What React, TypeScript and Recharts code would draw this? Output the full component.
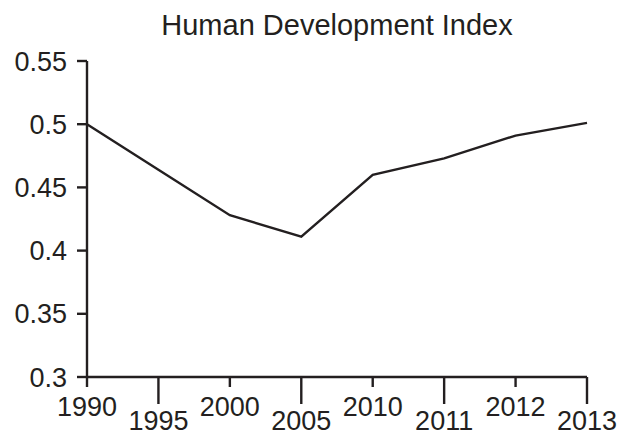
import { LineChart, Line, XAxis, YAxis } from "recharts";

const years = ["1990", "1995", "2000", "2005", "2010", "2011", "2012", "2013"];
const hdiValues = [0.5, 0.464, 0.428, 0.411, 0.46, 0.473, 0.491, 0.501];
const yTicks = [0.3, 0.35, 0.4, 0.45, 0.5, 0.55];

const INK = "#231f20";
const FONT = "'Liberation Sans', Arial, Helvetica, sans-serif";

const chartData = years.map((year, i) => ({ year, hdi: hdiValues[i] }));

type TickProps = {
  x?: number;
  y?: number;
  index?: number;
  payload?: { value: string };
};

// alternating short/long tick marks with staggered labels
function YearTick({ x = 0, y = 0, index = 0, payload }: TickProps) {
  const long = index % 2 === 1;
  return (
    <g>
      <line x1={x} x2={x} y1={y} y2={y + (long ? 27 : 10)} stroke={INK} strokeWidth={2.4} />
      <text
        x={x}
        y={y + (long ? 53 : 39)}
        textAnchor="middle"
        fontSize={27}
        fontFamily={FONT}
        fill={INK}
      >
        {payload?.value}
      </text>
    </g>
  );
}

export default function App() {
  return (
    <div
      style={{
        position: "absolute",
        left: 0,
        top: 0,
        width: 623,
        height: 436,
        background: "#fff",
        fontFamily: FONT,
      }}
    >
      <div
        style={{
          position: "absolute",
          left: 87,
          width: 500,
          top: 11,
          textAlign: "center",
          fontSize: 29,
          lineHeight: 1,
          color: INK,
        }}
      >
        Human Development Index
      </div>
      <LineChart
        width={623}
        height={436}
        data={chartData}
        margin={{ top: 61, right: 36, bottom: 0, left: 0 }}
      >
        <XAxis
          dataKey="year"
          height={59}
          axisLine={{ stroke: INK, strokeWidth: 2.4 }}
          tickLine={false}
          tickSize={0}
          tickMargin={0}
          interval={0}
          tick={<YearTick />}
        />
        <YAxis
          width={87}
          domain={[0.3, 0.55]}
          ticks={yTicks}
          interval={0}
          axisLine={{ stroke: INK, strokeWidth: 2.4 }}
          tickLine={{ stroke: INK, strokeWidth: 2.4 }}
          tickSize={10}
          tickMargin={10}
          tick={{ fill: INK, fontSize: 27, fontFamily: FONT }}
        />
        <Line
          type="linear"
          dataKey="hdi"
          stroke={INK}
          strokeWidth={2.4}
          dot={false}
          activeDot={false}
          isAnimationActive={false}
        />
      </LineChart>
    </div>
  );
}
